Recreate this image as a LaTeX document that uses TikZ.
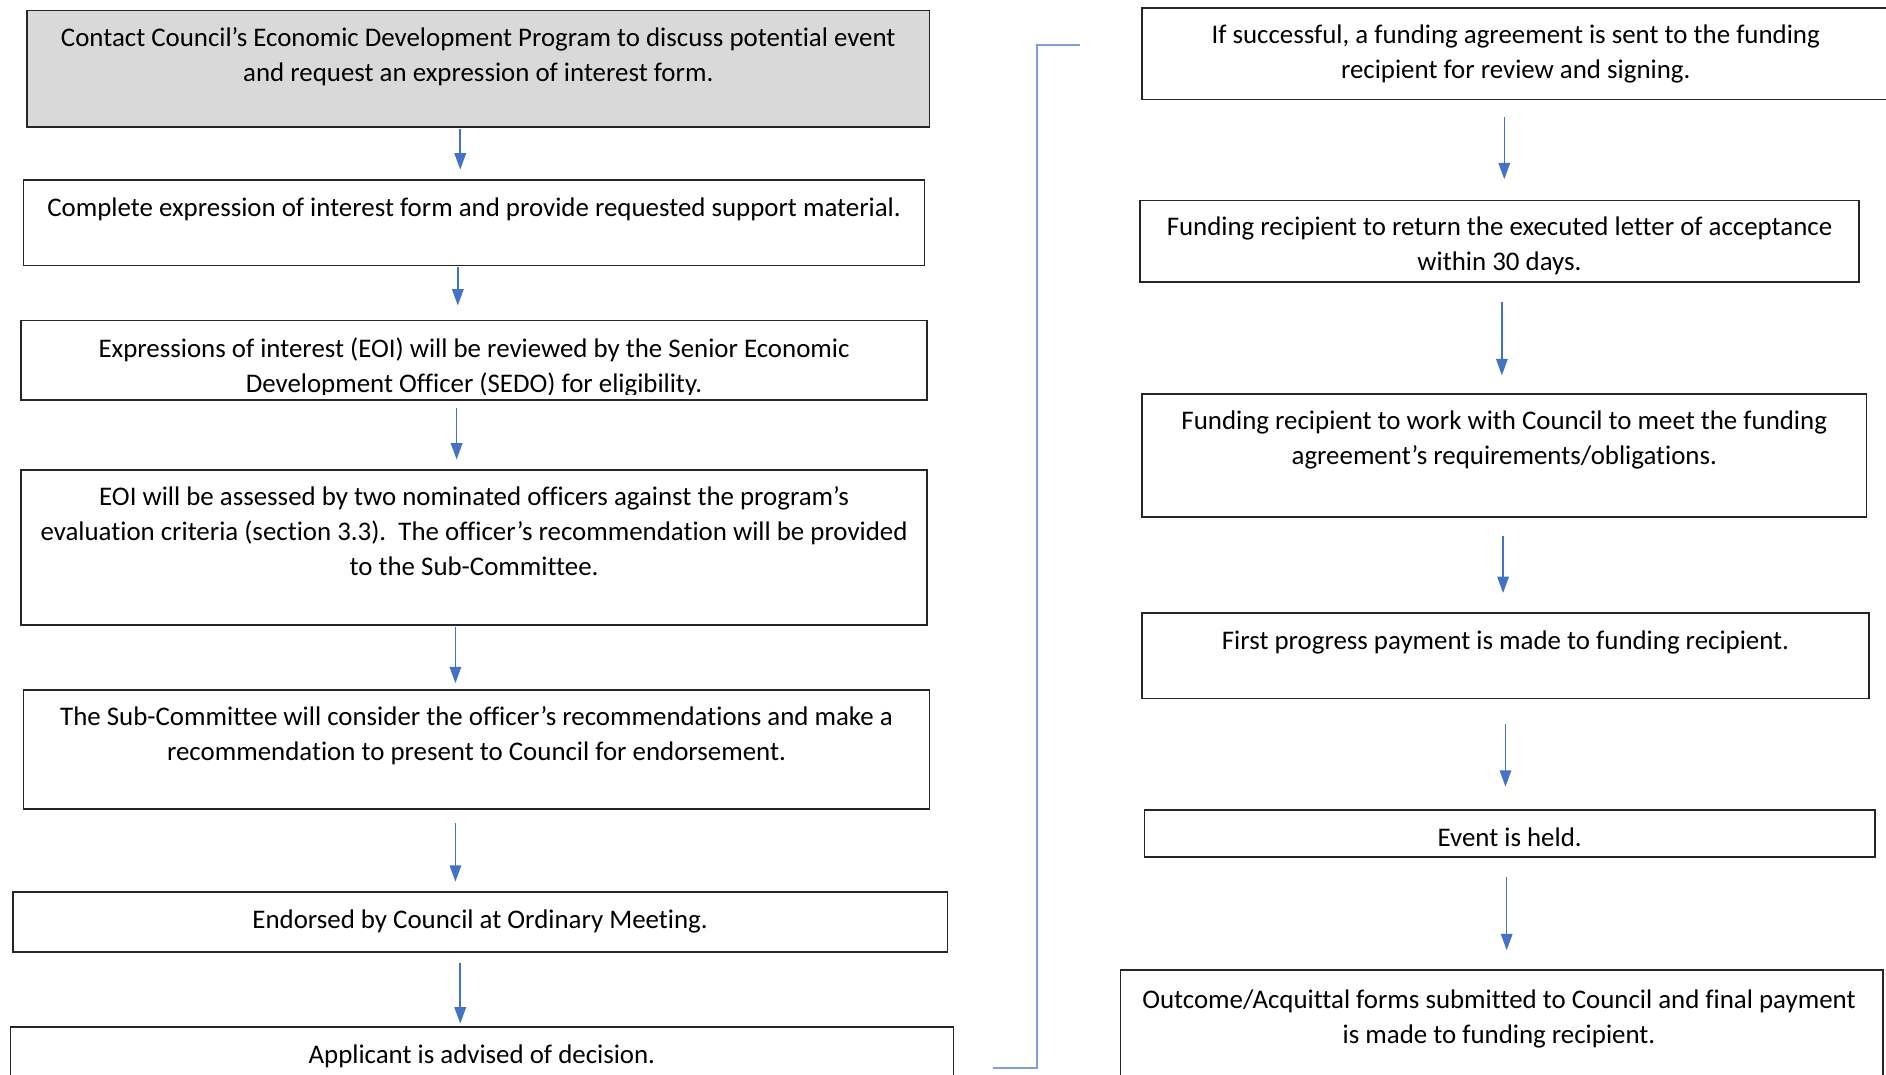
\documentclass[tikz,border=0pt]{standalone}
\usepackage{fontspec}
\setmainfont[Ligatures=NoCommon]{Carlito}
\usepackage{tikz}
\usetikzlibrary{arrows.meta}
\definecolor{flowblue}{HTML}{4472C4}
\definecolor{linkblue}{HTML}{7F9FD9}
\definecolor{startgray}{HTML}{D9D9D9}

\begin{document}
\begin{tikzpicture}[>=Latex,
  stepbox/.style={draw=black!85,line width=0.9pt,anchor=north west,inner sep=0pt},
  steptext/.style={anchor=north,align=center,inner sep=0pt,font=\fontsize{15.9}{20.6}\selectfont,execute at begin node=\strut},
  flow/.style={draw=flowblue,line width=0.9pt,-{Triangle[length=3.4mm,width=2.4mm]}},
  link/.style={draw=linkblue,line width=1pt}]
\useasboundingbox (0,0) rectangle (39.2,-22.325);
% left column
\node[stepbox,fill=startgray,minimum width=18.75cm,minimum height=2.425cm] (l1) at (0.55,-0.2) {};
\node[stepbox,minimum width=18.725cm,minimum height=1.775cm] (l2) at (0.475,-3.725) {};
\node[stepbox,minimum width=18.825cm,minimum height=1.65cm] (l3) at (0.425,-6.65) {};
\node[stepbox,minimum width=18.825cm,minimum height=3.225cm] (l4) at (0.425,-9.75) {};
\node[stepbox,minimum width=18.825cm,minimum height=2.475cm] (l5) at (0.475,-14.325) {};
\node[stepbox,minimum width=19.425cm,minimum height=1.25cm] (l6) at (0.25,-18.525) {};
\node[stepbox,minimum width=19.6cm,minimum height=1.7cm] (l7) at (0.2,-21.325) {};
\node[steptext] (t1) at ([yshift=-0.36cm]l1.north) {Contact Council’s Economic Development Program to discuss potential event\\and request an expression of interest form.};
\node[steptext] (t2) at ([yshift=-0.26cm]l2.north) {Complete expression of interest form and provide requested support material.};
\begin{scope}
\clip (l3.north west) rectangle ([yshift=0.125cm]l3.south east);
\node[steptext] (t3) at ([yshift=-0.36cm]l3.north) {Expressions of interest (EOI) will be reviewed by the Senior Economic\\Development Officer (SEDO) for eligibility.};
\end{scope}
\node[steptext] (t4) at ([yshift=-0.36cm]l4.north) {EOI will be assessed by two nominated officers against the program’s\\evaluation criteria (section 3.3).\ \ The officer’s recommendation will be provided\\to the Sub-Committee.};
\node[steptext] (t5) at ([yshift=-0.36cm]l5.north) {The Sub-Committee will consider the officer’s recommendations and make a\\recommendation to present to Council for endorsement.};
\node[steptext] (t6) at ([yshift=-0.26cm]l6.north) {Endorsed by Council at Ordinary Meeting.};
\node[steptext] (t7) at ([yshift=-0.26cm]l7.north) {Applicant is advised of decision.};
% right column
\node[stepbox,minimum width=15.525cm,minimum height=1.9cm] (r1) at (23.725,-0.15) {};
\node[stepbox,minimum width=14.95cm,minimum height=1.7cm] (r2) at (23.675,-4.15) {};
\node[stepbox,minimum width=15.05cm,minimum height=2.55cm] (r3) at (23.725,-8.175) {};
\node[stepbox,minimum width=15.1cm,minimum height=1.775cm] (r4) at (23.725,-12.725) {};
\node[stepbox,minimum width=15.175cm,minimum height=0.975cm] (r5) at (23.775,-16.825) {};
\node[stepbox,minimum width=15.85cm,minimum height=2.5cm] (r6) at (23.275,-20.15) {};
\node[steptext] (s1) at ([yshift=-0.36cm]r1.north) {If successful, a funding agreement is sent to the funding\\recipient for review and signing.};
\begin{scope}
\clip (r2.north west) rectangle ([yshift=0.175cm]r2.south east);
\node[steptext] (s2) at ([yshift=-0.36cm]r2.north) {Funding recipient to return the executed letter of acceptance\\within 30 days.};
\end{scope}
\node[steptext] (s3) at ([yshift=-0.36cm]r3.north) {Funding recipient to work with Council to meet the funding\\agreement’s requirements/obligations.};
\node[steptext] (s4) at ([yshift=-0.26cm]r4.north) {First progress payment is made to funding recipient.};
\node[steptext] (s5) at ([yshift=-0.26cm]r5.north) {Event is held.};
\node[steptext] (s6) at ([xshift=-0.06cm,yshift=-0.42cm]r6.north) {Outcome/Acquittal forms submitted to Council and final payment\\is made to funding recipient.};
% arrows
\draw[flow,shorten <=0.025cm,shorten >=0.2cm] ([xshift=-0.375cm]l1.south) -- ([xshift=-0.375cm]l1.south |- l2.north);
\draw[flow,shorten <=0.025cm,shorten >=0.3cm] ([xshift=-0.3375cm]l2.south) -- ([xshift=-0.3375cm]l2.south |- l3.north);
\draw[flow,shorten <=0.15cm,shorten >=0.2cm] ([xshift=-0.3625cm]l3.south) -- ([xshift=-0.3625cm]l3.south |- l4.north);
\draw[flow,shorten <=0.025cm,shorten >=0.125cm] ([xshift=-0.3875cm]l4.south) -- ([xshift=-0.3875cm]l4.south |- l5.north);
\draw[flow,shorten <=0.275cm,shorten >=0.2cm] ([xshift=-0.4375cm]l5.south) -- ([xshift=-0.4375cm]l5.south |- l6.north);
\draw[flow,shorten <=0.2cm,shorten >=0.05cm] ([xshift=-0.4125cm]l6.south) -- ([xshift=-0.4125cm]l6.south |- l7.north);
\draw[flow,shorten <=0.35cm,shorten >=0.425cm] ([xshift=-0.2375cm]r1.south) -- ([xshift=-0.2375cm]r1.south |- r2.north);
\draw[flow,shorten <=0.4cm,shorten >=0.375cm] ([xshift=0.05cm]r2.south) -- ([xshift=0.05cm]r2.south |- r3.north);
\draw[flow,shorten <=0.375cm,shorten >=0.4cm] ([xshift=-0.025cm]r3.south) -- ([xshift=-0.025cm]r3.south |- r4.north);
\draw[flow,shorten <=0.525cm,shorten >=0.475cm] (r4.south) -- (r4.south |- r5.north);
\draw[flow,shorten <=0.4cm,shorten >=0.4cm] ([xshift=-0.0625cm]r5.south) -- ([xshift=-0.0625cm]r5.south |- r6.north);
% link between columns
\draw[link] ([xshift=0.8cm]l7.east) -- ++(0.925,0) |- ([shift={(-1.275cm,0.175cm)}]r1.west);
\end{tikzpicture}
\end{document}
